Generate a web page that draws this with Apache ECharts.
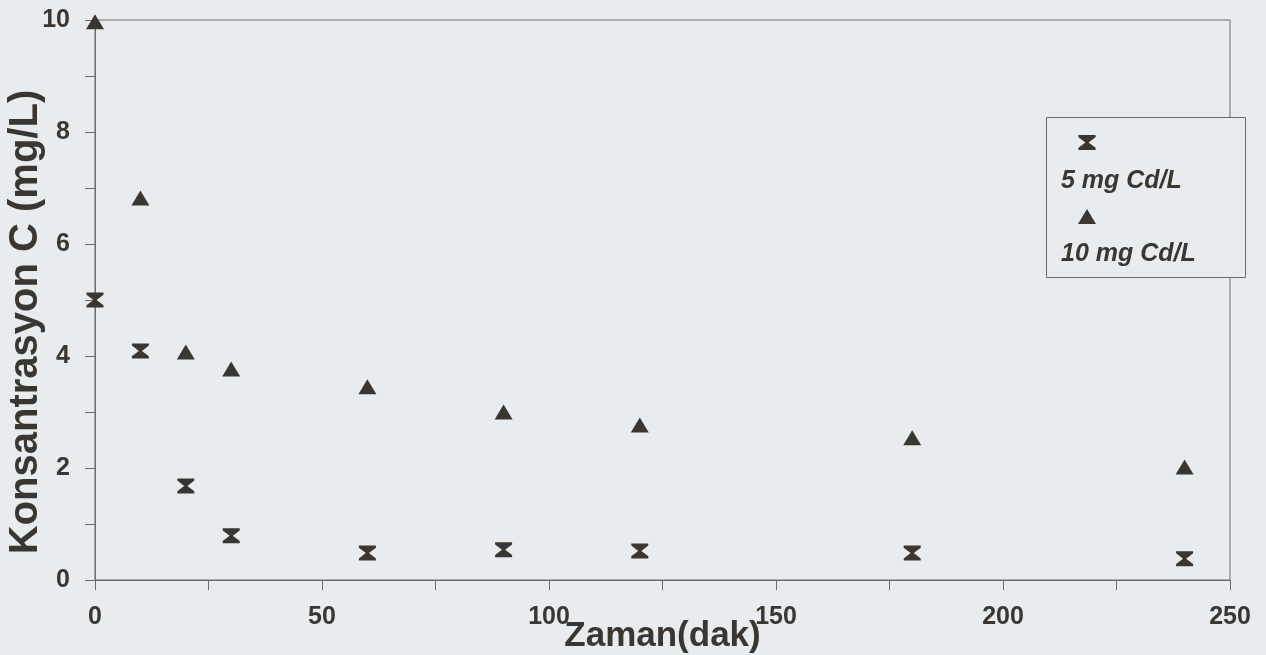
<!DOCTYPE html>
<html>
<head>
<meta charset="utf-8">
<script src="https://cdn.jsdelivr.net/npm/echarts@6/dist/echarts.min.js"></script>
<style>
  html, body { margin: 0; padding: 0; background: #e8ecef; }
  #chart { width: 1266px; height: 655px; }
</style>
</head>
<body>
<div id="chart"></div>
<script>
const times = [0, 10, 20, 30, 60, 90, 120, 180, 240];
const conc5 = [5.0, 4.09, 1.68, 0.79, 0.48, 0.54, 0.52, 0.48, 0.38];
const conc10 = [9.97, 6.82, 4.07, 3.77, 3.45, 3.0, 2.77, 2.54, 2.02];
const seriesNames = ["5 mg Cd/L", "10 mg Cd/L"];

const ink = "#3a3632";
const axisGray = "#6a6a6a";
// kum saati isareti
const hourglass = "path://M0,0 L16,0 L16,2 L9.5,7 L16,12 L16,14 L0,14 L0,12 L6.5,7 L0,2 Z";

const chart = echarts.init(document.getElementById("chart"));

const pairs = (ys) => times.map((t, i) => [t, ys[i]]);

const option = {
  backgroundColor: "#e8ecef",
  animation: false,
  grid: {
    left: 95,
    right: 36,
    top: 20,
    bottom: 75,
    containLabel: false,
    outerBoundsMode: "none",
    show: true,
    borderColor: axisGray,
    borderWidth: 1,
    backgroundColor: "transparent",
  },
  xAxis: {
    type: "value",
    min: 0,
    max: 250,
    interval: 50,
    name: "Zaman(dak)",
    nameLocation: "middle",
    nameGap: 39,
    nameMoveOverlap: false,
    nameTextStyle: {
      color: ink,
      fontFamily: "Liberation Sans",
      fontWeight: "bold",
      fontSize: 35,
    },
    axisLine: { lineStyle: { color: axisGray, width: 1 } },
    axisTick: { show: true, length: 10, lineStyle: { color: axisGray } },
    minorTick: { show: true, splitNumber: 2, length: 10, lineStyle: { color: axisGray } },
    splitLine: { show: false },
    axisLabel: {
      color: ink,
      fontFamily: "Liberation Sans",
      fontWeight: "bold",
      fontSize: 25,
      margin: 25,
    },
  },
  yAxis: {
    type: "value",
    min: 0,
    max: 10,
    interval: 2,
    name: "Konsantrasyon C (mg/L)",
    nameLocation: "middle",
    nameGap: 49,
    nameMoveOverlap: false,
    nameTextStyle: {
      color: ink,
      fontFamily: "Liberation Sans",
      fontWeight: "bold",
      fontSize: 40,
      padding: [0, 44, 0, 0],
    },
    axisLine: { lineStyle: { color: axisGray, width: 1 } },
    axisTick: { show: true, length: 10, lineStyle: { color: axisGray } },
    minorTick: { show: true, splitNumber: 2, length: 10, lineStyle: { color: axisGray } },
    splitLine: { show: false },
    axisLabel: {
      color: ink,
      fontFamily: "Liberation Sans",
      fontWeight: "bold",
      fontSize: 25,
      margin: 25,
    },
  },
  legend: [
    {
      // sadece isaretler
      data: seriesNames,
      orient: "vertical",
      left: 1078,
      top: 135,
      padding: 0,
      itemWidth: 18,
      itemHeight: 15,
      itemGap: 59,
      formatter: () => "",
      selectedMode: false,
      z: 10,
    },
    {
      // sadece yazilar
      data: seriesNames,
      orient: "vertical",
      left: 1055,
      top: 169,
      padding: 0,
      itemWidth: 1,
      itemHeight: 1,
      itemGap: 48,
      itemStyle: { opacity: 0 },
      selectedMode: false,
      textStyle: {
        color: ink,
        fontFamily: "Liberation Sans",
        fontWeight: "bold",
        fontStyle: "italic",
        fontSize: 25,
      },
      z: 10,
    },
  ],
  graphic: [
    {
      type: "rect",
      left: 1046,
      top: 117,
      z: 5,
      shape: { width: 199, height: 160 },
      style: { fill: "#e8ecef", stroke: axisGray, lineWidth: 1 },
    },
  ],
  series: [
    {
      name: seriesNames[0],
      type: "scatter",
      symbol: hourglass,
      symbolSize: [17, 15],
      clip: false,
      itemStyle: { color: ink, opacity: 1 },
      data: pairs(conc5),
    },
    {
      name: seriesNames[1],
      type: "scatter",
      symbol: "triangle",
      symbolSize: [18, 15],
      clip: false,
      itemStyle: { color: ink, opacity: 1 },
      data: pairs(conc10),
    },
  ],
};

chart.setOption(option);
window.addEventListener("resize", () => chart.resize());
</script>
</body>
</html>
